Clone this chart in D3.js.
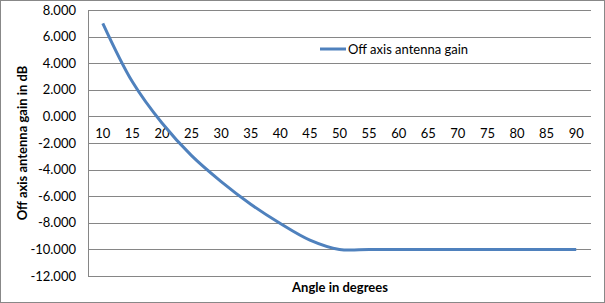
<!DOCTYPE html>
<html>
<head>
<meta charset="utf-8">
<script src="https://cdn.jsdelivr.net/npm/d3@7"></script>
<style>
  body { margin: 0; background: #fff; }
  text { font-family: Lato, "Open Sans", sans-serif; }
</style>
</head>
<body>
<svg></svg>
<script>
const width = 605, height = 303;

// angles (x categories) and gain values
const angles = [10, 15, 20, 25, 30, 35, 40, 45, 50, 55, 60, 65, 70, 75, 80, 85, 90];
const gain = [7.0, 2.6, -0.5, -2.95, -4.9, -6.6, -8.05, -9.3, -10.0, -10.0, -10.0, -10.0, -10.0, -10.0, -10.0, -10.0, -10.0];
const yTicks = [8, 6, 4, 2, 0, -2, -4, -6, -8, -10, -12];
const seriesName = "Off axis antenna gain";

const svg = d3.select("svg").attr("width", width).attr("height", height);

// chart area border
svg.append("rect")
    .attr("x", 0.5).attr("y", 0.5)
    .attr("width", width - 1).attr("height", height - 1)
    .attr("fill", "#fff").attr("stroke", "#888");

const plotLeft = 88, plotRight = 591, plotTop = 10, plotBottom = 276;

const x = d3.scaleBand().domain(angles).range([plotLeft, plotRight]);
const y = d3.scaleLinear().domain([-12, 8]).range([plotBottom, plotTop]);

// gridlines
svg.append("g")
    .selectAll("line")
    .data(yTicks)
    .enter()
    .append("line")
    .attr("x1", plotLeft).attr("x2", plotRight)
    .attr("y1", d => Math.round(y(d)) + 0.5)
    .attr("y2", d => Math.round(y(d)) + 0.5)
    .attr("stroke", "#868686");

// y axis line
svg.append("line")
    .attr("x1", plotLeft + 0.5).attr("x2", plotLeft + 0.5)
    .attr("y1", plotTop).attr("y2", plotBottom)
    .attr("stroke", "#868686");

// y labels
svg.append("g")
    .selectAll("text")
    .data(yTicks)
    .enter()
    .append("text")
    .attr("x", 76)
    .attr("y", d => y(d) + 4.5)
    .attr("text-anchor", "end")
    .style("font-size", "13px")
    .text(d => d3.format(".3f")(d).replace("−", "-"));

// x labels at the zero line
svg.append("g")
    .selectAll("text")
    .data(angles)
    .enter()
    .append("text")
    .attr("x", d => x(d) + x.bandwidth() / 2)
    .attr("y", y(0) + 22)
    .attr("text-anchor", "middle")
    .style("font-size", "13px")
    .text(d => d);

// series
const line = d3.line()
    .x((d, i) => x(angles[i]) + x.bandwidth() / 2)
    .y(d => y(d))
    .curve(d3.curveCatmullRom.alpha(0.5));

svg.append("path")
    .datum(gain)
    .attr("d", line)
    .attr("fill", "none")
    .attr("stroke", "#4F81BD")
    .attr("stroke-width", 3);

// legend
svg.append("line")
    .attr("x1", 320).attr("x2", 346)
    .attr("y1", 49).attr("y2", 49)
    .attr("stroke", "#4F81BD")
    .attr("stroke-width", 3);
svg.append("text")
    .attr("x", 348).attr("y", 53.5)
    .style("font-size", "13px")
    .text(seriesName);

// axis titles
svg.append("text")
    .attr("x", 340).attr("y", 292)
    .attr("text-anchor", "middle")
    .style("font-size", "13px")
    .style("font-weight", "bold")
    .text("Angle in degrees");

svg.append("text")
    .attr("transform", "translate(27,143) rotate(-90)")
    .attr("text-anchor", "middle")
    .style("font-size", "13px")
    .style("font-weight", "bold")
    .text("Off axis antenna gain in dB");
</script>
</body>
</html>
